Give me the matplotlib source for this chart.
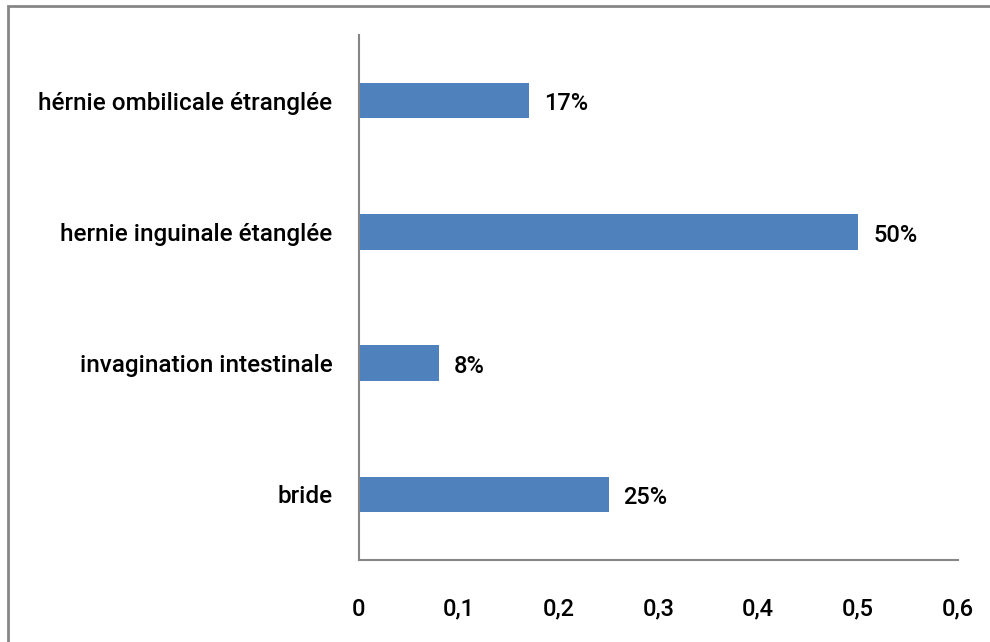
import matplotlib.pyplot as plt
from matplotlib.patches import Rectangle

categories = ["bride", "invagination intestinale", "hernie inguinale étanglée", "hérnie ombilicale étranglée"]
values = [0.25, 0.08, 0.50, 0.17]
labels = ["25%", "8%", "50%", "17%"]
xticks = [0, 0.1, 0.2, 0.3, 0.4, 0.5, 0.6]

plt.rcParams["font.family"] = ["Roboto", "DejaVu Sans"]
plt.rcParams["font.weight"] = 500

fig = plt.figure(figsize=(9.9, 6.42), dpi=100)
ax = fig.add_axes([0.3626, 0.1277, 0.605, 0.8178])

# outer frame of the chart area
fig.patches.append(Rectangle((8 / 990, -0.1), 1.1, 1 - 6 / 642 + 0.1,
                             transform=fig.transFigure, fill=False,
                             edgecolor="#868686", linewidth=2))

ypos = range(len(categories))
ax.barh(ypos, values, height=0.27, color="#4F81BD")

for y, v, lab in zip(ypos, values, labels):
    ax.text(v + 0.015, y - 0.025, lab, va="center", ha="left", fontsize=17, color="black")

ax.set_xlim(0, 0.6)
ax.set_ylim(-0.5, 3.5)
ax.set_yticks(list(ypos))
ax.set_yticklabels(categories, fontsize=17.5)
ax.set_xticks(xticks)
ax.set_xticklabels([("%g" % t).replace(".", ",") for t in xticks], fontsize=17)
ax.tick_params(length=0, pad=27, axis="x")
ax.tick_params(length=0, pad=19, axis="y")

for side in ["top", "right"]:
    ax.spines[side].set_visible(False)
for side in ["left", "bottom"]:
    ax.spines[side].set_color("#868686")
    ax.spines[side].set_linewidth(1.5)

fig.savefig("out.png", dpi=100)
